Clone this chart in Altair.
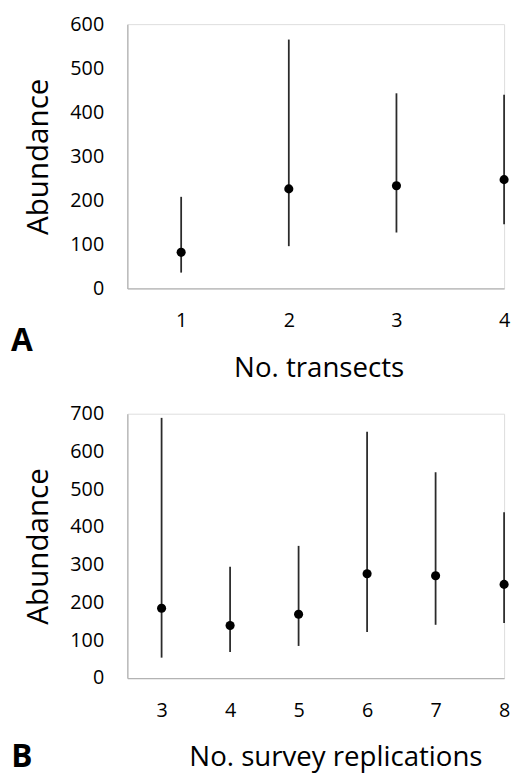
import altair as alt
import pandas as pd

# Panel A: number of transects
transects = [1, 2, 3, 4]
a_mean = [82, 226, 233, 247]
a_low = [36, 96, 127, 146]
a_high = [208, 565, 443, 440]

# Panel B: number of survey replications
replications = [3, 4, 5, 6, 7, 8]
b_mean = [185, 139, 169, 276, 271, 248]
b_low = [54, 69, 85, 122, 141, 146]
b_high = [689, 295, 350, 652, 545, 439]

y_ticks_a = [0, 100, 200, 300, 400, 500, 600]
y_ticks_b = [0, 100, 200, 300, 400, 500, 600, 700]

FONT = "Open Sans"
AXIS_GRAY = "#b3b3b3"

dfa = pd.DataFrame({"x": transects, "m": a_mean, "lo": a_low, "hi": a_high})
dfb = pd.DataFrame({"x": replications, "m": b_mean, "lo": b_low, "hi": b_high})

W = 382
H = 268


def panel(df, xdomain, xvals, ydomain, yvals, xtitle, title_x, letter, letter_y):
    xs = alt.Scale(domain=xdomain, nice=False, zero=False)
    ys = alt.Scale(domain=ydomain, nice=False)
    xaxis = alt.Axis(values=xvals, format="d", ticks=False, grid=False,
                     domainColor=AXIS_GRAY, domainWidth=1.3,
                     labelFont=FONT, labelFontSize=20, labelColor="black",
                     labelPadding=23, labelFlush=False, labelOverlap=False,
                     title=xtitle, titleFont=FONT, titleFontSize=28,
                     titleFontWeight="normal", titleColor="black",
                     titlePadding=24, titleX=title_x, titleAlign="center")
    yaxis = alt.Axis(values=yvals, ticks=False, grid=False,
                     domainColor=AXIS_GRAY, domainWidth=1.3,
                     labelFont=FONT, labelFontSize=20, labelColor="black",
                     labelPadding=24, labelFlush=False, labelOverlap=False,
                     title="Abundance", titleFont=FONT, titleFontSize=30,
                     titleFontWeight="normal", titleColor="black",
                     titlePadding=17)
    base = alt.Chart(df)
    rules = base.mark_rule(color="#2b2b2b", strokeWidth=1.8, clip=False).encode(
        x=alt.X("x:Q", scale=xs, axis=xaxis),
        y=alt.Y("lo:Q", scale=ys, axis=yaxis),
        y2="hi:Q",
    )
    pts = base.mark_circle(color="black", opacity=1, size=85, clip=False).encode(
        x=alt.X("x:Q", scale=xs, axis=xaxis),
        y=alt.Y("m:Q", scale=ys, axis=yaxis),
    )
    lab = alt.Chart(pd.DataFrame({"t": [letter]})).mark_text(
        font=FONT, fontSize=32, fontWeight="bold", color="black",
        align="center", baseline="middle",
    ).encode(text="t:N", x=alt.value(-107), y=alt.value(letter_y))
    return alt.layer(rules, pts, lab).properties(width=W, height=H)


pa = panel(dfa, [0.5, 4.0], transects, [0, 600], y_ticks_a,
           "No. transects", 194, "A", 321)
pb = panel(dfb, [2.5, 8.0], replications, [0, 700], y_ticks_b,
           "No. survey replications", 211, "B", 348)

chart = (
    alt.vconcat(pa, pb, spacing=20)
    .configure_view(stroke=None)
    .configure_axis(labelOverlap=False)
    .configure(padding={"left": 2, "top": 0, "right": 0, "bottom": 0})
)

chart.save("out.html", embed_options={"renderer": "svg", "actions": False})
